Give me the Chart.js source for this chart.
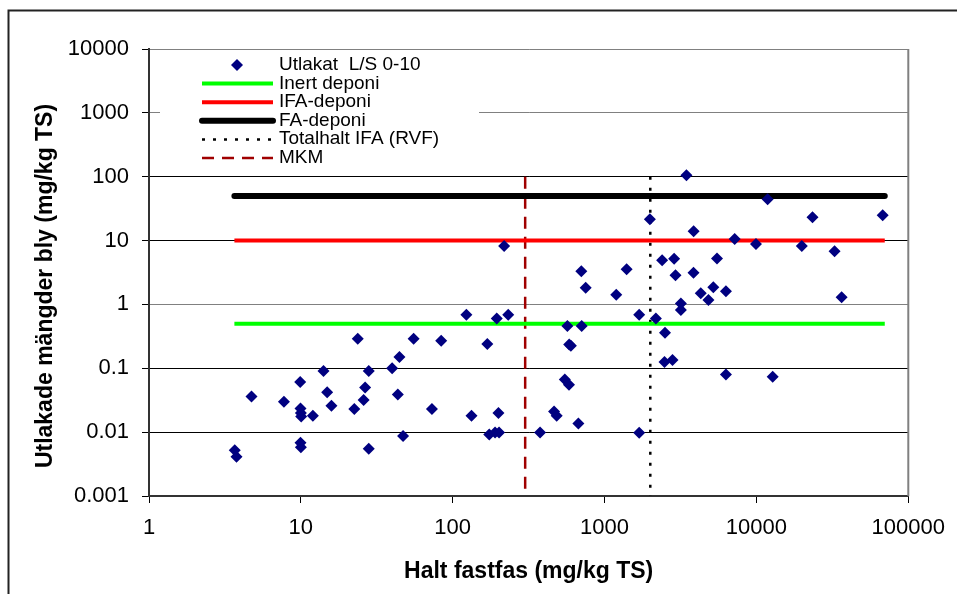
<!DOCTYPE html>
<html>
<head>
<meta charset="utf-8">
<script src="https://cdn.jsdelivr.net/npm/chart.js@4.4.0/dist/chart.umd.min.js"></script>
<style>
  html, body { margin: 0; padding: 0; background: #fff; }
  canvas { display: block; }
</style>
</head>
<body>
<canvas id="chart" width="957" height="594"></canvas>
<script>
// leaching data
const leachX = [3.67, 3.77, 4.73, 7.74, 9.9, 9.95, 10, 10.05, 9.95, 10, 12.0, 14.1, 14.9, 15.9, 22.5, 23.7,
  25.9, 26.5, 28.0, 28.0, 39.9, 43.5, 44.6, 47.1, 55.3, 73, 84, 123, 133, 169, 174, 190, 195, 200, 202,
  218, 232, 376, 465, 484, 547, 569, 583, 585, 600, 672, 703, 707, 751, 1194, 1397, 1690, 1690, 1987,
  2177, 2393, 2480, 2500, 2800, 2871, 2930, 3180, 3180, 3460, 3850, 3860, 4300, 4830, 5200, 5500, 6300,
  6300, 7190, 9930, 11850, 12800, 19900, 23400, 32700, 36400, 67800];
const leachY = [0.0052, 0.0041, 0.036, 0.030, 0.061, 0.0235, 0.020, 0.0175, 0.0068, 0.0058, 0.018, 0.091,
  0.042, 0.026, 0.023, 0.29, 0.032, 0.050, 0.091, 0.0055, 0.10, 0.039, 0.15, 0.0087, 0.29, 0.023, 0.27,
  0.69, 0.018, 0.24, 0.0092, 0.0099, 0.60, 0.020, 0.0099, 8.2, 0.69, 0.0099, 0.021, 0.018, 0.067, 0.46,
  0.055, 0.235, 0.225, 0.0137, 3.32, 0.46, 1.82, 1.42, 3.55, 0.69, 0.0098, 21.6, 0.60, 4.94, 0.125, 0.36,
  0.135, 5.17, 2.87, 1.03, 0.82, 105, 3.12, 14.0, 1.5, 1.17, 1.86, 5.25, 1.61, 0.080, 10.6, 8.8, 44.5,
  0.074, 8.2, 23.2, 6.8, 1.3, 25.0];

// limit values
const limitX = [3.65, 70000];   // extent of the horizontal limit lines
const inertY = 0.5;
const ifaY = 10;
const faY = 50;
const totalIfaX = 2000;
const mkmX = 300;
const vLineY = [100, 0.001];     // extent of the vertical lines

const xTicks = [1, 10, 100, 1000, 10000, 100000];
const yTicks = [0.001, 0.01, 0.1, 1, 10, 100, 1000, 10000];
const grayLines = [10000, 1000, 1];

const xTitle = "Halt fastfas (mg/kg TS)";
const yTitle = "Utlakade mängder bly (mg/kg TS)";

const FONT = "'Liberation Sans', Arial, sans-serif";

const hLine = (y) => limitX.map((x) => ({ x: x, y: y }));
const vLine = (x) => vLineY.map((y) => ({ x: x, y: y }));

// white page, outer frame, right plot border and y title
const framePlugin = {
  id: "frame",
  beforeDraw(chart) {
    const ctx = chart.ctx;
    ctx.save();
    ctx.fillStyle = "#fff";
    ctx.fillRect(0, 0, chart.width, chart.height);
    ctx.restore();
  },
  afterDraw(chart) {
    const { ctx, chartArea: a } = chart;
    ctx.save();
    ctx.strokeStyle = "#222";
    ctx.lineWidth = 2;
    ctx.strokeRect(8.5, 10.5, 1200, 1200);

    ctx.strokeStyle = "#808080";
    ctx.lineWidth = 2;
    ctx.beginPath();
    ctx.moveTo(a.right, a.top);
    ctx.lineTo(a.right, a.bottom);
    ctx.stroke();

    ctx.translate(52, 286);
    ctx.rotate(-Math.PI / 2);
    ctx.font = "bold 23px " + FONT;
    ctx.fillStyle = "#000";
    ctx.textAlign = "center";
    ctx.textBaseline = "alphabetic";
    ctx.fillText(yTitle, 0, 0);
    ctx.restore();
  }
};

// legend inside the plot, top left
const legendPlugin = {
  id: "legendBox",
  afterDraw(chart) {
    const ctx = chart.ctx;
    ctx.save();
    ctx.fillStyle = "#fff";
    ctx.fillRect(160, 50, 319, 118);
    ctx.font = "19px " + FONT;
    ctx.textBaseline = "alphabetic";
    ctx.textAlign = "left";
    chart.data.datasets.forEach((ds, i) => {
      const y = 65 + i * 18.6;
      if (ds.showLine) {
        ctx.strokeStyle = ds.borderColor;
        ctx.lineWidth = ds.borderWidth;
        ctx.setLineDash(ds.borderDash || []);
        ctx.lineCap = ds.borderCapStyle || "butt";
        ctx.beginPath();
        ctx.moveTo(202, y);
        ctx.lineTo(273, y);
        ctx.stroke();
        ctx.setLineDash([]);
        ctx.lineCap = "butt";
      } else {
        const r = ds.pointRadius;
        ctx.fillStyle = ds.backgroundColor;
        ctx.beginPath();
        ctx.moveTo(237 - r, y);
        ctx.lineTo(237, y - r);
        ctx.lineTo(237 + r, y);
        ctx.lineTo(237, y + r);
        ctx.closePath();
        ctx.fill();
      }
      ctx.fillStyle = "#000";
      ctx.fillText(ds.label, 279, y + 5);
    });
    ctx.restore();
  }
};

const ctx = document.getElementById("chart").getContext("2d");

new Chart(ctx, {
  type: "scatter",
  data: {
    datasets: [
      {
        label: "Utlakat  L/S 0-10",
        data: leachX.map((x, i) => ({ x: x, y: leachY[i] })),
        pointStyle: "rectRot",
        pointRadius: 6,
        backgroundColor: "#000080",
        borderColor: "#000080",
        borderWidth: 0,
        showLine: false
      },
      {
        label: "Inert deponi",
        data: hLine(inertY),
        showLine: true,
        borderColor: "#00ff00",
        borderWidth: 4,
        pointRadius: 0
      },
      {
        label: "IFA-deponi",
        data: hLine(ifaY),
        showLine: true,
        borderColor: "#ff0000",
        borderWidth: 4,
        pointRadius: 0
      },
      {
        label: "FA-deponi",
        data: hLine(faY),
        showLine: true,
        borderColor: "#000000",
        borderWidth: 6,
        borderCapStyle: "round",
        pointRadius: 0
      },
      {
        label: "Totalhalt IFA (RVF)",
        data: vLine(totalIfaX),
        showLine: true,
        borderColor: "#000000",
        borderWidth: 2.5,
        borderDash: [3, 8],
        pointRadius: 0
      },
      {
        label: "MKM",
        data: vLine(mkmX),
        showLine: true,
        borderColor: "#a00000",
        borderWidth: 2.5,
        borderDash: [12, 8],
        pointRadius: 0
      }
    ]
  },
  options: {
    responsive: false,
    devicePixelRatio: 1,
    animation: false,
    events: [],
    layout: { padding: { left: 0, top: 49, right: 47, bottom: 0 } },
    plugins: {
      legend: { display: false },
      tooltip: { enabled: false }
    },
    scales: {
      x: {
        type: "logarithmic",
        min: 1,
        max: 100000,
        afterBuildTicks: (s) => { s.ticks = xTicks.map((v) => ({ value: v })); },
        afterFit: (s) => { s.height = 98; },
        grid: { drawOnChartArea: false, tickLength: 7, color: "#000" },
        border: { color: "#333", width: 2 },
        ticks: {
          color: "#000",
          font: { family: FONT, size: 22 },
          padding: 12,
          maxRotation: 0,
          callback: (v) => String(v)
        },
        title: {
          display: true,
          text: xTitle,
          color: "#000",
          font: { family: FONT, size: 23, weight: "bold" },
          padding: { top: 0, bottom: 9 }
        }
      },
      y: {
        type: "logarithmic",
        min: 0.001,
        max: 10000,
        afterBuildTicks: (s) => { s.ticks = yTicks.map((v) => ({ value: v })); },
        afterFit: (s) => { s.width = 149; },
        grid: {
          tickLength: 7,
          lineWidth: 1,
          tickColor: "#000",
          color: (c) => (c.tick && grayLines.includes(c.tick.value) ? "#808080" : "#000")
        },
        border: { color: "#333", width: 2 },
        ticks: {
          color: "#000",
          font: { family: FONT, size: 22 },
          padding: 13,
          callback: (v) => String(v)
        }
      }
    }
  },
  plugins: [framePlugin, legendPlugin]
});
</script>
</body>
</html>
